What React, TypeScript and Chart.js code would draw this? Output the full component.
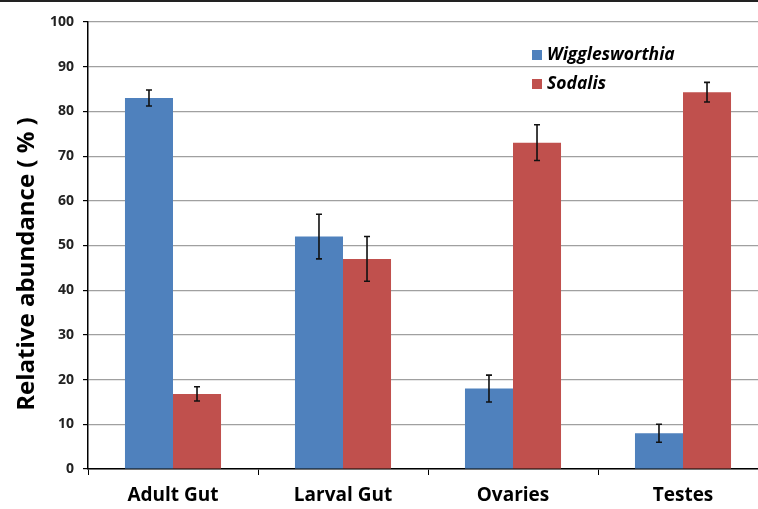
import React, { useEffect, useRef } from "react";
import { Chart, registerables } from "chart.js";

Chart.register(...registerables);

const categories = ["Adult Gut", "Larval Gut", "Ovaries", "Testes"];
const seriesNames = ["Wigglesworthia", "Sodalis"];
const wiggValues = [83, 52, 18, 8];
const wiggErrors = [1.8, 5, 3, 2];
const sodaValues = [16.8, 47, 73, 84.3];
const sodaErrors = [1.6, 5, 4, 2.2];
const yTicks = [0, 10, 20, 30, 40, 50, 60, 70, 80, 90, 100];

const BLUE = "#4F81BD";
const RED = "#C0504D";
const FONT = "'Open Sans', 'Liberation Sans', sans-serif";

export default function App() {
  const ref = useRef<HTMLCanvasElement | null>(null);

  useEffect(() => {
    if (!ref.current) return;
    const errorsByDataset = [wiggErrors, sodaErrors];

    const errorBars = {
      id: "errorBars",
      afterDatasetsDraw(chart: any) {
        const ctx = chart.ctx;
        const yScale = chart.scales.y;
        ctx.save();
        ctx.strokeStyle = "#111";
        ctx.lineWidth = 1.6;
        chart.data.datasets.forEach((ds: any, di: number) => {
          const meta = chart.getDatasetMeta(di);
          meta.data.forEach((el: any, i: number) => {
            const v = ds.data[i];
            const e = errorsByDataset[di][i];
            const yTop = yScale.getPixelForValue(v + e);
            const yBot = yScale.getPixelForValue(v - e);
            ctx.beginPath();
            ctx.moveTo(el.x, yTop);
            ctx.lineTo(el.x, yBot);
            ctx.moveTo(el.x - 3, yTop);
            ctx.lineTo(el.x + 3, yTop);
            ctx.moveTo(el.x - 3, yBot);
            ctx.lineTo(el.x + 3, yBot);
            ctx.stroke();
          });
        });
        ctx.restore();
      },
    };

    const decor = {
      id: "decor",
      afterDraw(chart: any) {
        const ctx = chart.ctx;
        ctx.save();
        // top frame line
        ctx.strokeStyle = "#222";
        ctx.lineWidth = 2;
        ctx.beginPath();
        ctx.moveTo(0, 1);
        ctx.lineTo(chart.width, 1);
        ctx.stroke();
        // y title
        ctx.translate(27, 264);
        ctx.rotate(-Math.PI / 2);
        ctx.fillStyle = "#000";
        ctx.font = `bold 24px ${FONT}`;
        ctx.textAlign = "center";
        ctx.textBaseline = "middle";
        ctx.fillText("Relative abundance ( % )", 0, 0);
        ctx.restore();

        // legend
        ctx.save();
        const colors = [BLUE, RED];
        const ys = [55, 84];
        ctx.font = `italic bold 17.5px ${FONT}`;
        ctx.textBaseline = "middle";
        ctx.textAlign = "left";
        seriesNames.forEach((n, i) => {
          ctx.fillStyle = colors[i];
          ctx.fillRect(532, ys[i] - 5, 10, 10);
          ctx.fillStyle = "#000";
          ctx.fillText(n, 547, ys[i]);
        });
        ctx.restore();
      },
    };

    const chart = new Chart(ref.current, {
      type: "bar",
      data: {
        labels: categories,
        datasets: [
          { label: seriesNames[0], data: wiggValues, backgroundColor: BLUE, borderWidth: 0 },
          { label: seriesNames[1], data: sodaValues, backgroundColor: RED, borderWidth: 0 },
        ],
      },
      options: {
        responsive: false,
        animation: false,
        layout: { padding: { top: 22, left: 0, right: 0, bottom: 0 } },
        plugins: { legend: { display: false }, tooltip: { enabled: false } },
        datasets: { bar: { categoryPercentage: 0.565, barPercentage: 1 } },
        scales: {
          x: {
            grid: {
              display: true,
              drawOnChartArea: false,
              drawTicks: true,
              tickLength: 6,
              color: "#000",
              offset: true,
            },
            border: { color: "#000", width: 1.5 },
            ticks: {
              color: "#000",
              font: { family: FONT, size: 19, weight: "bold" },
              padding: 9,
            },
            afterFit(scale: any) {
              scale.height = 40;
            },
          },
          y: {
            min: 0,
            max: 100,
            afterBuildTicks(scale: any) {
              scale.ticks = yTicks.map((v) => ({ value: v }));
            },
            grid: { color: "#a0a0a0", lineWidth: 1.2, tickLength: 5, tickColor: "#000" },
            border: { color: "#000", width: 1.5 },
            ticks: {
              color: "#222",
              font: { family: FONT, size: 14, weight: "bold" },
              padding: 9,
            },
            afterFit(scale: any) {
              scale.width = 88;
            },
          },
        },
      },
      plugins: [errorBars, decor],
    } as any);

    return () => chart.destroy();
  }, []);

  return (
    <div
      style={{
        position: "absolute",
        left: 0,
        top: 0,
        width: 758,
        height: 509,
        overflow: "hidden",
        background: "#fff",
      }}
    >
      <canvas ref={ref} width={768} height={509} style={{ display: "block" }} />
    </div>
  );
}
